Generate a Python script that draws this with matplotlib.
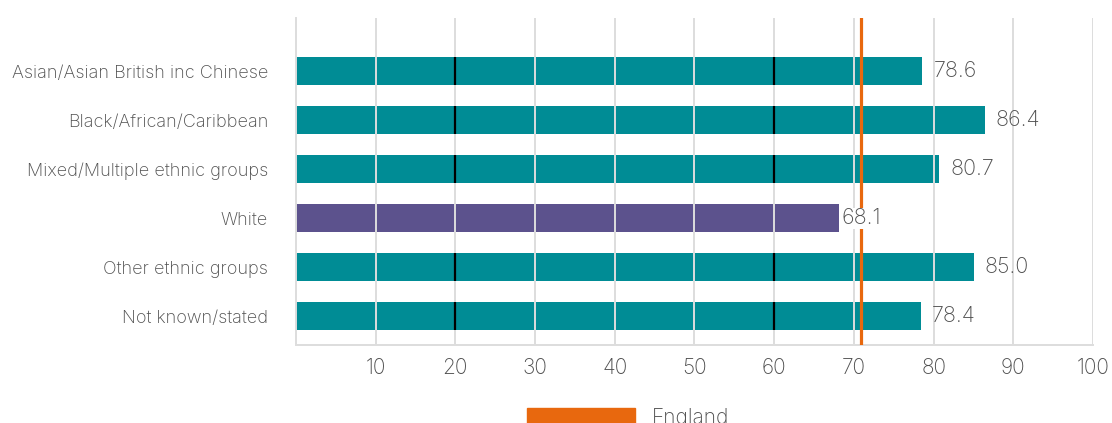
import matplotlib
matplotlib.use("Agg")
import matplotlib.pyplot as plt
from matplotlib.patches import Patch

groups = ["Asian/Asian British inc Chinese", "Black/African/Caribbean",
          "Mixed/Multiple ethnic groups", "White", "Other ethnic groups",
          "Not known/stated"]
values = [78.6, 86.4, 80.7, 68.1, 85.0, 78.4]
england = 70.9
xticks = [10, 20, 30, 40, 50, 60, 70, 80, 90, 100]

teal = "#008C95"
purple = "#5C528D"
orange = "#E8680E"
text_col = "#4F4F4F"
grid_col = "#DDDDDD"

plt.rcParams['font.family'] = ['Inter', 'DejaVu Sans']
plt.rcParams['font.weight'] = 'light'

fig = plt.figure(figsize=(11.12, 4.23), dpi=100)
ax = fig.add_axes([0.266, 0.184, 0.717, 0.773])

ypos = list(range(len(groups)))
colors = [purple if g == "White" else teal for g in groups]
bars = ax.barh(ypos, values, height=0.57, color=colors, zorder=2)

# grid drawn over the bars
for t in xticks:
    ax.axvline(t, color=grid_col, lw=1.4, zorder=3)

# dark markers at 20 and 60 on the teal bars
for b, c in zip(bars, colors):
    if c == teal:
        y0 = b.get_y()
        ax.vlines([20, 60], y0, y0 + b.get_height(), color="black", lw=1.6, zorder=4)

ax.axvline(england, color=orange, lw=2.3, zorder=5)

for b, v, g in zip(bars, values, groups):
    off = 2 if g == "White" else 8
    ax.annotate(f"{v:.1f}", (v, b.get_y() + b.get_height() / 2),
                xytext=(off, 0), textcoords="offset points",
                va="center", ha="left", fontsize=15.5, color=text_col,
                zorder=6,
                bbox=dict(facecolor="white", edgecolor="none", pad=0.5) if g == "White" else None)

ax.set_xlim(0, 100)
ax.set_ylim(5.59, -1.08)
ax.set_xticks(xticks)
ax.set_xticklabels([str(t) for t in xticks], fontsize=15, color=text_col)
ax.set_yticks(ypos)
ax.set_yticklabels(groups, fontsize=13, color=text_col)
ax.tick_params(axis="x", length=0, pad=9)
ax.tick_params(axis="y", length=0, pad=20)

for s in ["top", "right"]:
    ax.spines[s].set_visible(False)
for s in ["left", "bottom"]:
    ax.spines[s].set_color(grid_col)
    ax.spines[s].set_linewidth(1.4)

fig.legend(handles=[Patch(color=orange, label="England")],
           loc="upper center", bbox_to_anchor=(0.565, 0.06),
           frameon=False, fontsize=15, handlelength=5.2, handleheight=1.0,
           borderpad=0, handletextpad=0.8, labelcolor=text_col)

fig.savefig("out.png", dpi=100)
